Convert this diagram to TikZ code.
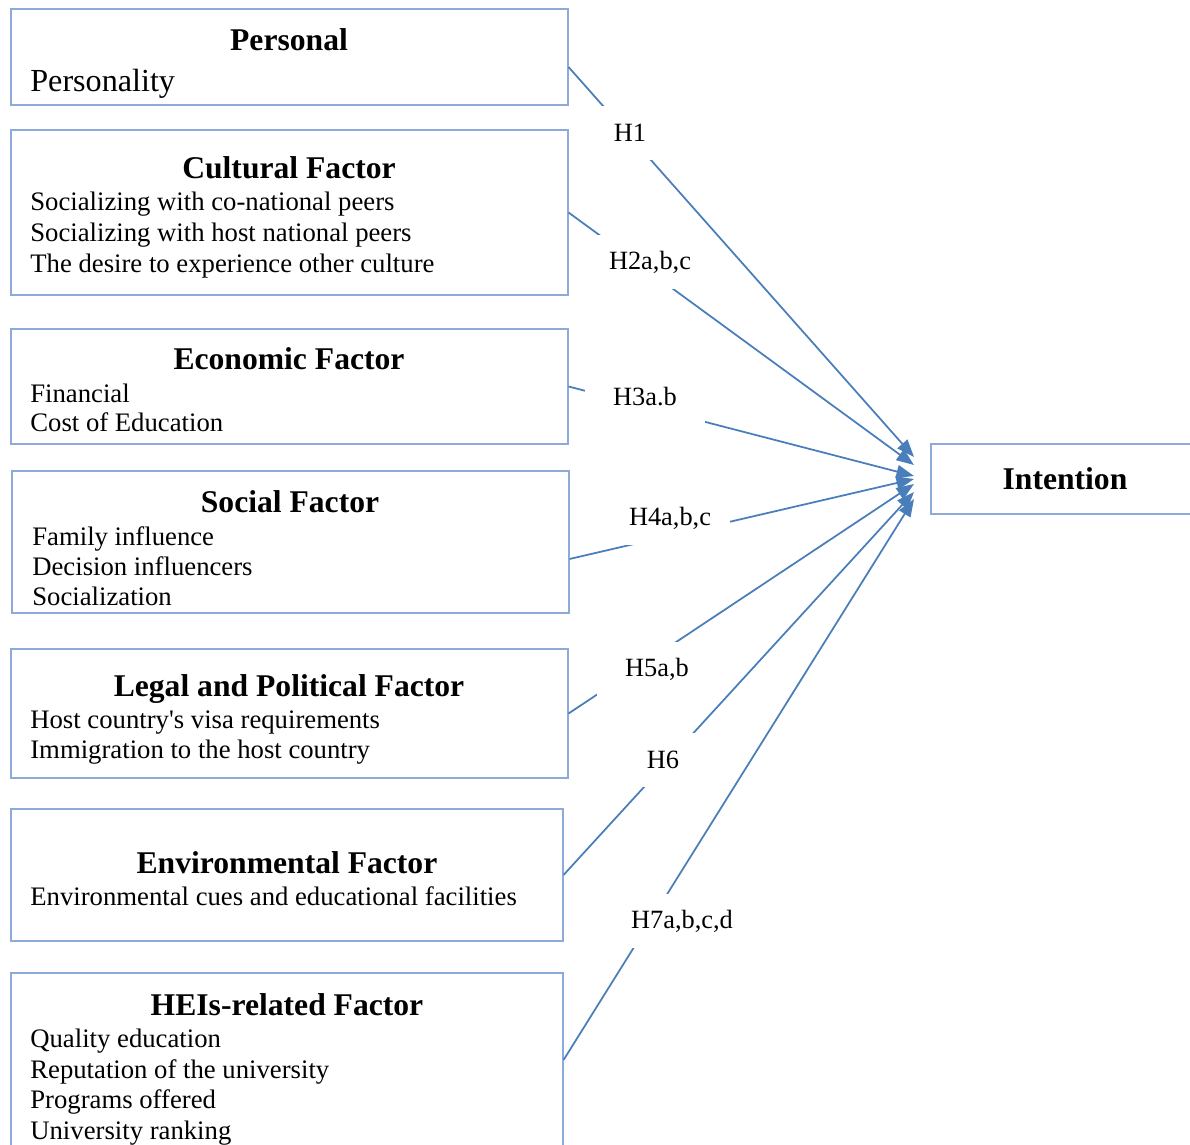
\documentclass[tikz,border=0pt]{standalone}
\usepackage{fontspec}
\setmainfont{Liberation Serif}
\usetikzlibrary{arrows.meta,fit}
\definecolor{linkblue}{HTML}{4A7EBB}
\definecolor{boxblue}{HTML}{8EAADB}

\begin{document}
\begin{tikzpicture}[
          x=0.02cm, y=-0.02cm,
          factor/.style={draw=boxblue, line width=0.6pt, inner sep=0pt},
          head/.style={anchor=base, inner sep=0pt, font=\fontsize{18}{21}\selectfont\bfseries},
          item/.style={anchor=base west, inner sep=0pt, font=\fontsize{15.2}{18}\selectfont},
          hyp/.style={fill=white, minimum width=2.4cm, minimum height=1.08cm, inner sep=0pt, font=\fontsize{15}{18}\selectfont},
          link/.style={draw=linkblue, line width=1pt, -{Triangle[length=10pt,width=7.5pt]}}
    ]
    \useasboundingbox (0,0) rectangle (1190,1145);

    % factor boxes
    \node[factor, fit={(11,9) (568,105)}] (per) {};
    \node[factor, fit={(11,130) (568,295)}] (cul) {};
    \node[factor, fit={(11,329) (568,444)}] (eco) {};
    \node[factor, fit={(12,471) (569,613)}] (soc) {};
    \node[factor, fit={(11,649) (568,778)}] (leg) {};
    \node[factor, fit={(11,809) (563,941)}] (env) {};
    \node[factor, fit={(11,973) (563,1147)}] (hei) {};
    \node[factor, fit={(931,444) (1196,514)}] (int) {};

    \node[head] (perT) at (289,51) {Personal};
    \node[item, font=\fontsize{18.3}{21}\selectfont] (perA) at (30,92) {Personality};

    \node[head] (culT) at (289,179) {Cultural Factor};
    \node[item] (culA) at (30,211) {Socializing with co-national peers};
    \node[item] (culB) at (30,242) {Socializing with host national peers};
    \node[item] (culC) at (30,273) {The desire to experience other culture};

    \node[head] (ecoT) at (289,370) {Economic Factor};
    \node[item] (ecoA) at (30,402) {Financial};
    \node[item] (ecoB) at (30,432) {Cost of Education};

    \node[head] (socT) at (290,512) {Social Factor};
    \node[item] (socA) at (32,545) {Family influence};
    \node[item] (socB) at (32,575) {Decision influencers};
    \node[item] (socC) at (32,605) {Socialization};

    \node[head] (legT) at (289,696) {Legal and Political Factor};
    \node[item] (legA) at (30,728) {Host country\textquotesingle s visa requirements};
    \node[item] (legB) at (30,758) {Immigration to the host country};

    \node[head] (envT) at (287,873) {Environmental Factor};
    \node[item] (envA) at (30,905) {Environmental cues and educational facilities};

    \node[head] (heiT) at (287,1015) {HEIs-related Factor};
    \node[item] (heiA) at (30,1047) {Quality education};
    \node[item] (heiB) at (30,1078) {Reputation of the university};
    \node[item] (heiC) at (30,1108) {Programs offered};
    \node[item] (heiD) at (30,1139) {University ranking};

    \node[head] (intT) at (1065,489) {Intention};

    % arrow ends in front of Intention
    \coordinate (in1) at (914,457);
    \coordinate (in2) at (914,465);
    \coordinate (in3) at (914,476);
    \coordinate (in4) at (914,479);
    \coordinate (in5) at (914,484);
    \coordinate (in6) at (914,492);
    \coordinate (in7) at (914,499);

    \draw[link] ([yshift=-0.2cm]per.east) -- (in1);
    \draw[link] (cul.east) -- (in2);
    \draw[link] (eco.east) -- (in3);
    \draw[link] ([yshift=-0.34cm]soc.east) -- (in4);
    \draw[link] (leg.east) -- (in5);
    \draw[link] (env.east) -- (in6);
    \draw[link] (hei.east) -- (in7);

    % hypothesis labels
    \node[hyp] (h1) at (630,133) {H1};
    \node[hyp] (h2) at (650,262) {H2a,b,c};
    \node[hyp] (h3) at (645,397) {H3a.b};
    \node[hyp] (h4) at (670,518) {H4a,b,c};
    \node[hyp] (h5) at (657,669) {H5a,b};
    \node[hyp] (h6) at (663,760) {H6};
    \node[hyp] (h7) at (682,921) {H7a,b,c,d};

\end{tikzpicture}
\end{document}
